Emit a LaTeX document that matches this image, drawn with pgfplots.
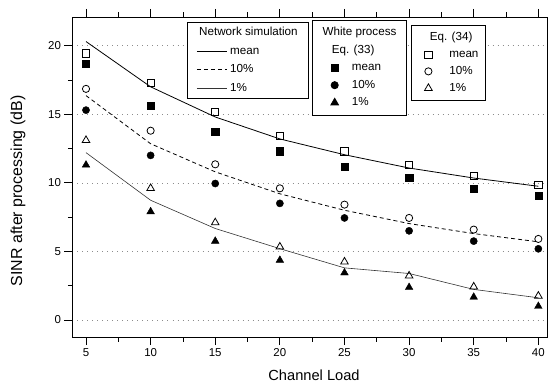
\documentclass[border=0pt]{standalone}
\usepackage{fontspec}
\setmainfont{Liberation Sans}
\usepackage{pgfplots}
\pgfplotsset{compat=1.18}
\begin{document}
\begin{tikzpicture}
\pgfplotsset{
  base/.style={
    width=474.5bp, height=320bp, scale only axis,
    xmin=3.955, xmax=40.67, ymin=-1.24, ymax=22.09,
    at={(0,0)}, anchor=south west,
  },
  legcommon/.style={
    legend cell align=left,
    legend style={draw=black, line width=0.8bp, fill=white,
      font=\fontsize{11.7}{13}\selectfont,
      cells={inner sep=0bp, text height=0.75em, text depth=0.25em},
      anchor=north west},
  },
}
% ---------- Axis 1: frame, ticks, network simulation lines ----------
\begin{axis}[base, legcommon,
  axis line style={line width=0.9bp},
  tick align=outside, tick pos=both,
  xtick={5,10,...,40}, ytick={0,5,...,20},
  minor x tick num=1, minor y tick num=1,
  major tick length=8bp, minor tick length=4.5bp,
  every tick/.style={black, line width=0.8bp},
  ticklabel style={font=\fontsize{11.5}{13}\selectfont},
  /pgf/number format/assume math mode=true,
  ymajorgrids, grid style={black!45, line width=0.5bp, dash pattern=on 1bp off 4bp},
  xlabel={Channel Load}, ylabel={SINR after processing (dB)},
  xlabel style={font=\fontsize{14.7}{16}\selectfont, at={(axis description cs:0.509,-0.119)}, anchor=center},
  ylabel style={font=\fontsize{16}{18}\selectfont, at={(axis description cs:-0.115,0.4566)}, anchor=center, rotate=0},
  legend style={at={(0.2413,0.985)}, inner xsep=9bp, inner ysep=4bp, row sep=5.5bp, column sep=1bp},
  legend image code/.code={\draw[#1] (0bp,0bp) -- (30bp,0bp);},
]
\addlegendimage{empty legend}
\addlegendentry{\hspace{-31bp}Network simulation}
\addplot[black, line width=0.8bp] coordinates {(5,20.3) (10,17.0) (15,14.8) (20,13.2) (25,12.05) (30,11.08) (35,10.35) (40,9.75)};
\addlegendentry{mean}
\addplot[black, line width=0.8bp, dash pattern=on 4bp off 3bp] coordinates {(5,16.36) (10,12.85) (15,10.8) (20,9.2) (25,8.0) (30,7.03) (35,6.3) (40,5.7)};
\addlegendentry{10\%}
\addplot[black!80, line width=0.6bp] coordinates {(5,12.2) (10,8.73) (15,6.67) (20,5.2) (25,3.8) (30,3.39) (35,2.23) (40,1.62)};
\addlegendentry{1\%}
\end{axis}
% ---------- Axis 2: White process Eq. (33), filled markers ----------
\begin{axis}[base, legcommon, hide axis,
  legend style={at={(0.5041,0.9906)}, inner xsep=8.3bp, inner ysep=5.8bp, row sep=4.55bp, column sep=11.4bp},
  legend image code/.code={\path[draw=none] (-14.3bp,0bp) rectangle (3.6bp,0bp); \path[#1, draw=none] plot[mark=none] coordinates {(0bp,0bp)}; \draw[#1] plot coordinates {(0bp,0bp)};},
]
\addlegendimage{empty legend}
\addlegendentry{\hspace{-29.3bp}White process\hspace{-4bp}}
\addlegendimage{empty legend}
\addlegendentry{\hspace{-20bp}Eq. (33)}
\addplot[black, only marks, mark=square*, mark size=3.6bp] coordinates {(5,18.7) (10,15.6) (15,13.7) (20,12.3) (25,11.15) (30,10.4) (35,9.58) (40,9.07)};
\addlegendentry{mean}
\addplot[black, only marks, mark=*, mark size=3.6bp] coordinates {(5,15.3) (10,12.0) (15,9.95) (20,8.5) (25,7.44) (30,6.5) (35,5.75) (40,5.19)};
\addlegendentry{10\%}
\addplot[black, only marks, mark=triangle*, mark size=4.4bp] coordinates {(5,11.3) (10,7.9) (15,5.75) (20,4.36) (25,3.44) (30,2.38) (35,1.67) (40,1.0)};
\addlegendentry{1\%}
\end{axis}
% ---------- Axis 3: Eq. (34), open markers ----------
\begin{axis}[base, legcommon, hide axis,
  legend style={at={(0.7134,0.975)}, inner xsep=5bp, inner ysep=5.8bp, row sep=3.9bp, column sep=15.1bp},
  legend image code/.code={\path[draw=none] (-12bp,0bp) rectangle (3.6bp,0bp); \draw[#1] plot coordinates {(0bp,0bp)};},
]
\addlegendimage{empty legend}
\addlegendentry{\hspace{-19.4bp}Eq. (34)}
\addplot[black, only marks, mark=square, mark size=3.6bp, mark options={solid, fill=white, line width=0.8bp}] coordinates {(5,19.44) (10,17.3) (15,15.2) (20,13.45) (25,12.29) (30,11.32) (35,10.5) (40,9.84)};
\addlegendentry{mean}
\addplot[black, only marks, mark=o, mark size=3.6bp, mark options={solid, fill=white, line width=0.8bp}] coordinates {(5,16.85) (10,13.8) (15,11.35) (20,9.6) (25,8.41) (30,7.44) (35,6.59) (40,5.91)};
\addlegendentry{10\%}
\addplot[black, only marks, mark=triangle, mark size=4.4bp, mark options={solid, fill=white, line width=0.8bp}] coordinates {(5,13.1) (10,9.6) (15,7.1) (20,5.33) (25,4.24) (30,3.22) (35,2.42) (40,1.75)};
\addlegendentry{1\%}
\end{axis}
\pgfresetboundingbox
\useasboundingbox (-72.5bp,-48bp) rectangle (475.5bp,337bp);
\end{tikzpicture}
\end{document}
